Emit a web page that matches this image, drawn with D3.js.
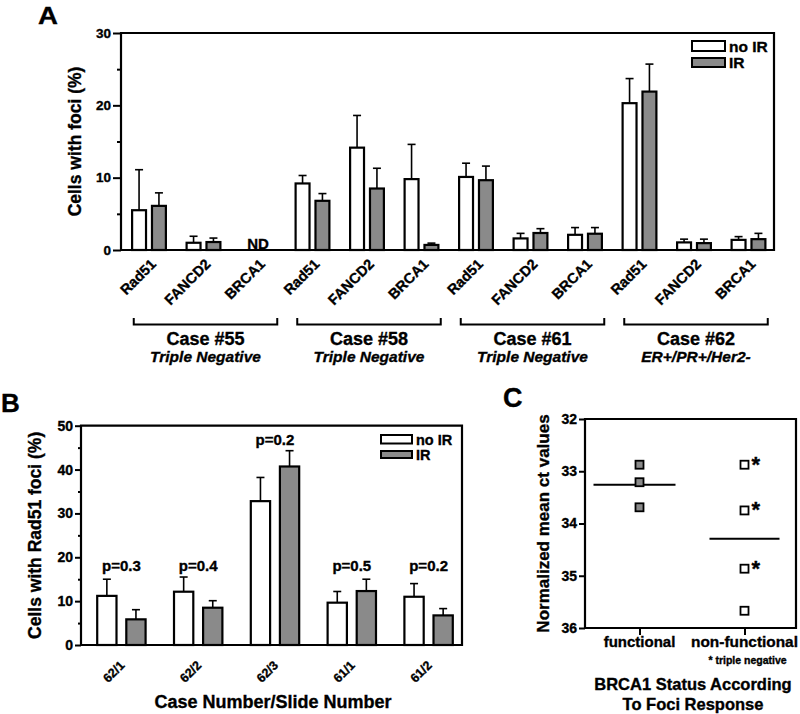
<!DOCTYPE html>
<html><head><meta charset="utf-8">
<script src="https://cdn.jsdelivr.net/npm/d3@7"></script>
<style>
body{margin:0;background:#fff;}
svg{display:block;font-family:"Liberation Sans",Arial,sans-serif;font-weight:bold;}
svg text{stroke:#000;stroke-width:0.35px;}
</style></head>
<body><svg id="c" width="800" height="714"></svg>
<script>
// ---------- DATA ----------
const genesA = ["Rad51","FANCD2","BRCA1"];
const casesA = ["Case #55","Case #58","Case #61","Case #62"];
const caseSubtitles = ["Triple Negative","Triple Negative","Triple Negative","ER+/PR+/Her2-"];
const noIR_A = [5.5, 1.0, null, 9.2, 14.15, 9.8, 10.1, 1.6, 2.1, 20.3, 1.05, 1.4];
const noIR_A_err = [5.6, 0.9, null, 1.1, 4.45, 4.8, 1.9, 0.7, 1.0, 3.4, 0.45, 0.45];
const IR_A = [6.1, 1.1, null, 6.8, 8.5, 0.7, 9.65, 2.35, 2.25, 21.9, 0.95, 1.5];
const IR_A_err = [1.8, 0.55, null, 1.0, 2.8, 0.25, 1.95, 0.6, 0.85, 3.8, 0.55, 0.8];
const yTicksA = [0, 10, 20, 30];

const slidesB = ["62/1","62/2","62/3","61/1","61/2"];
const noIR_B = [11.2, 12.15, 32.8, 9.65, 11.0];
const noIR_B_err = [3.8, 3.35, 5.4, 2.55, 3.0];
const IR_B = [5.85, 8.5, 40.7, 12.3, 6.75];
const IR_B_err = [2.2, 1.6, 3.6, 2.7, 1.55];
const pValuesB = ["p=0.3","p=0.4","p=0.2","p=0.5","p=0.2"];
const yTicksB = [0, 10, 20, 30, 40, 50];

const groupsC = ["functional","non-functional"];
const functionalCt = [32.875, 33.21, 33.69];
const nonFunctionalCt = [32.875, 33.75, 34.865, 35.67];
const tripleNegative = [true, true, true, false];
const yTicksC = [32, 33, 34, 35, 36];

const seriesNames = ["no IR","IR"];
const GRAY = "#8a8a8a";

const svg = d3.select("#c");
svg.append("rect").attr("width",800).attr("height",714).attr("fill","#fff");

function yAxisDraw(g, y, major, minor, majorLen, minorLen, fs) {
  const a = g.append("g").call(d3.axisLeft(y).tickValues(major).tickSize(majorLen).tickPadding(2).tickFormat(d3.format("d")));
  a.select(".domain").remove();
  a.selectAll("line").attr("stroke","#000").attr("stroke-width",2);
  a.selectAll("text").attr("font-size",fs).attr("font-family","inherit").attr("font-weight","bold").attr("fill","#000");
  if (minor.length) {
    const b = g.append("g").call(d3.axisLeft(y).tickValues(minor).tickSize(minorLen).tickFormat(""));
    b.select(".domain").remove();
    b.selectAll("line").attr("stroke","#000").attr("stroke-width",2);
  }
}

function barsWithErr(g, x0, x1, y, ids, vals, errs, key, fill) {
  const rows = ids.map((id,i)=>({id, v:vals[i], e:errs[i]})).filter(d=>d.v!=null);
  const cx = d => x0(d.id) + x1(key) + x1.bandwidth()/2;
  g.selectAll(null).data(rows).enter().append("line")
    .attr("x1",cx).attr("x2",cx).attr("y1",d=>y(d.v)).attr("y2",d=>y(d.v+d.e))
    .attr("stroke","#000").attr("stroke-width",1.6);
  g.selectAll(null).data(rows).enter().append("line")
    .attr("x1",d=>cx(d)-4).attr("x2",d=>cx(d)+4).attr("y1",d=>y(d.v+d.e)).attr("y2",d=>y(d.v+d.e))
    .attr("stroke","#000").attr("stroke-width",1.6);
  g.selectAll(null).data(rows).enter().append("rect")
    .attr("x",d=>x0(d.id)+x1(key)).attr("width",x1.bandwidth())
    .attr("y",d=>y(d.v)).attr("height",d=>y(0)-y(d.v))
    .attr("fill",fill).attr("stroke","#000").attr("stroke-width",2.2);
}

// ---------- PANEL A ----------
{
  const g = svg.append("g");
  const L=121, R=774, T=33, B=250;
  const ids = [];
  casesA.forEach((c,ci)=>genesA.forEach(gn=>ids.push(ci+"|"+gn)));
  const x0 = d3.scaleBand().domain(ids).range([121.75, 775.75]).padding(0);
  const x1 = d3.scaleBand().domain(seriesNames).range([x0.bandwidth()*0.19, x0.bandwidth()*0.81]).paddingInner(0.3);
  const y = d3.scaleLinear().domain([0,30]).range([B,T]);

  yAxisDraw(g.append("g").attr("transform",`translate(${L},0)`), y, yTicksA, [5,15,25], 8, 4, "13.5px");

  barsWithErr(g, x0, x1, y, ids, noIR_A, noIR_A_err, "no IR", "#fff");
  barsWithErr(g, x0, x1, y, ids, IR_A, IR_A_err, "IR", GRAY);

  g.append("path").attr("d",`M${L},${T}H${R}V${B}H${L}Z`).attr("fill","none").attr("stroke","#000").attr("stroke-width",2.2);

  ids.forEach((id,i)=>{ if (noIR_A[i]==null) {
    g.append("text").attr("x",x0(id)+x0.bandwidth()/2).attr("y",B-1).attr("text-anchor","middle")
      .attr("font-size","15px").text("ND");
  }});

  g.selectAll(null).data(ids).enter().append("text")
    .attr("text-anchor","end").attr("font-size","14.5px")
    .attr("transform",d=>`translate(${x0(d)+x0.bandwidth()/2+8},${B+15}) rotate(-45)`)
    .text(d=>d.split("|")[1]);

  casesA.forEach((c,ci)=>{
    const x1b = x0(ci+"|"+genesA[0]) + 12;
    const x2b = x0(ci+"|"+genesA[genesA.length-1]) + x0.bandwidth() - 8;
    g.append("path").attr("d",`M${x1b},318V324.5H${x2b}V318`).attr("fill","none").attr("stroke","#000").attr("stroke-width",2);
    g.append("text").attr("x",(x1b+x2b)/2).attr("y",345).attr("text-anchor","middle").attr("font-size","18px").text(c);
    g.append("text").attr("x",(x1b+x2b)/2).attr("y",362).attr("text-anchor","middle").attr("font-size","15.5px")
      .attr("font-style","italic").text(caseSubtitles[ci]);
  });

  g.append("text").attr("transform",`translate(81,${(T+B)/2}) rotate(-90)`).attr("text-anchor","middle")
    .attr("font-size","17.5px").text("Cells with foci (%)");

  [["no IR","#fff",41,10,52],["IR",GRAY,58,9,68]].forEach(([n,f,yy,h,tb])=>{
    g.append("rect").attr("x",692).attr("y",yy).attr("width",33).attr("height",h).attr("fill",f).attr("stroke","#000").attr("stroke-width",2);
    g.append("text").attr("x",729).attr("y",tb).attr("font-size","15.5px").text(n);
  });

  g.append("text").attr("x",38).attr("y",24).attr("font-size","24px").attr("transform","translate(38,24) scale(1.15,1) translate(-38,-24)").text("A");
}

// ---------- PANEL B ----------
{
  const g = svg.append("g");
  const L=81, R=462, T=425.7, B=645;
  const x0 = d3.scaleBand().domain(slidesB).range([83, 467]).padding(0);
  const x1 = d3.scaleBand().domain(seriesNames).range([x0.bandwidth()*0.185, x0.bandwidth()*0.815]).paddingInner(0.337);
  const y = d3.scaleLinear().domain([0,50]).range([B,T]);

  yAxisDraw(g.append("g").attr("transform",`translate(${L},0)`), y, yTicksB, [5,15,25,35,45], 6, 3, "14px");

  barsWithErr(g, x0, x1, y, slidesB, noIR_B, noIR_B_err, "no IR", "#fff");
  barsWithErr(g, x0, x1, y, slidesB, IR_B, IR_B_err, "IR", GRAY);

  g.append("path").attr("d",`M${L},${T}H${R}V${B}H${L}Z`).attr("fill","none").attr("stroke","#000").attr("stroke-width",2.2);

  const tops = slidesB.map((s,i)=>Math.max(noIR_B[i]+noIR_B_err[i], IR_B[i]+IR_B_err[i]));
  const lowLevel = d3.max(tops.filter(t=>t<20));
  slidesB.forEach((s,i)=>{
    const lvl = tops[i] >= 20 ? tops[i] : lowLevel;
    g.append("text").attr("x",x0(s)+x0.bandwidth()/2).attr("y",y(lvl)-6).attr("text-anchor","middle")
      .attr("font-size","15px").text(pValuesB[i]);
  });

  g.selectAll(null).data(slidesB).enter().append("text")
    .attr("text-anchor","end").attr("font-size","12.5px")
    .attr("transform",d=>`translate(${x0(d)+x0.bandwidth()/2+4},${B+21}) rotate(-45)`)
    .text(d=>d);

  g.append("text").attr("x",273).attr("y",708).attr("text-anchor","middle").attr("font-size","18px").text("Case Number/Slide Number");
  g.append("text").attr("transform",`translate(41,${(T+B)/2}) rotate(-90)`).attr("text-anchor","middle")
    .attr("font-size","17.5px").text("Cells with Rad51 foci (%)");

  [["no IR","#fff",435,8.5,445],["IR",GRAY,451,7,460]].forEach(([n,f,yy,h,tb])=>{
    g.append("rect").attr("x",381).attr("y",yy).attr("width",31).attr("height",h).attr("fill",f).attr("stroke","#000").attr("stroke-width",2);
    g.append("text").attr("x",416).attr("y",tb).attr("font-size","14.5px").text(n);
  });

  g.append("text").attr("x",1).attr("y",412).attr("font-size","26px").text("B");
}

// ---------- PANEL C ----------
{
  const g = svg.append("g");
  const L=585, R=796, T=419, B=628;
  const x = d3.scalePoint().domain(groupsC).range([587, 797]).padding(0.5);
  const y = d3.scaleLinear().domain([32,36]).range([T,B]);

  yAxisDraw(g.append("g").attr("transform",`translate(${L},0)`), y, yTicksC, [], 6, 0, "14px");
  const xa = g.append("g").attr("transform",`translate(0,${B})`).call(d3.axisBottom(x).tickSize(7).tickFormat(""));
  xa.select(".domain").remove();
  xa.selectAll("line").attr("stroke","#000").attr("stroke-width",2);

  g.append("path").attr("d",`M${L},${T}H${R}V${B}H${L}Z`).attr("fill","none").attr("stroke","#000").attr("stroke-width",2.2);

  const s = 8;
  const fx = x("functional"), nx = x("non-functional");
  const mf = d3.mean(functionalCt), mn = d3.mean(nonFunctionalCt);
  g.append("line").attr("x1",fx-46).attr("x2",fx+36).attr("y1",y(mf)).attr("y2",y(mf)).attr("stroke","#000").attr("stroke-width",2);
  g.append("line").attr("x1",nx-35).attr("x2",nx+35).attr("y1",y(mn)).attr("y2",y(mn)).attr("stroke","#000").attr("stroke-width",2);

  g.selectAll(null).data(functionalCt).enter().append("rect")
    .attr("x",fx-s/2).attr("y",d=>y(d)-s/2).attr("width",s).attr("height",s)
    .attr("fill",GRAY).attr("stroke","#000").attr("stroke-width",1.8);
  g.selectAll(null).data(nonFunctionalCt).enter().append("rect")
    .attr("x",nx-s/2).attr("y",d=>y(d)-s/2).attr("width",s).attr("height",s)
    .attr("fill","#fff").attr("stroke","#000").attr("stroke-width",1.8);
  g.selectAll(null).data(nonFunctionalCt.filter((d,i)=>tripleNegative[i])).enter().append("text")
    .attr("x",nx+7).attr("y",d=>y(d)+7).attr("font-size","22px").text("*");

  g.append("text").attr("x",fx).attr("y",647).attr("text-anchor","middle").attr("font-size","15px").text("functional");
  g.append("text").attr("x",nx).attr("y",647).attr("text-anchor","middle").attr("font-size","15.4px").text("non-functional");
  g.append("text").attr("x",nx+3).attr("y",664).attr("text-anchor","middle").attr("font-size","10.5px").text("* triple negative");
  g.append("text").attr("x",693).attr("y",690).attr("text-anchor","middle").attr("font-size","16.5px").text("BRCA1 Status According");
  g.append("text").attr("x",693).attr("y",710).attr("text-anchor","middle").attr("font-size","16.5px").text("To Foci Response");
  g.append("text").attr("transform",`translate(549,${(T+B)/2}) rotate(-90)`).attr("text-anchor","middle")
    .attr("font-size","17px").text("Normalized mean ct values");

  g.append("text").attr("x",503).attr("y",407).attr("font-size","27px").text("C");
}
</script></body></html>
